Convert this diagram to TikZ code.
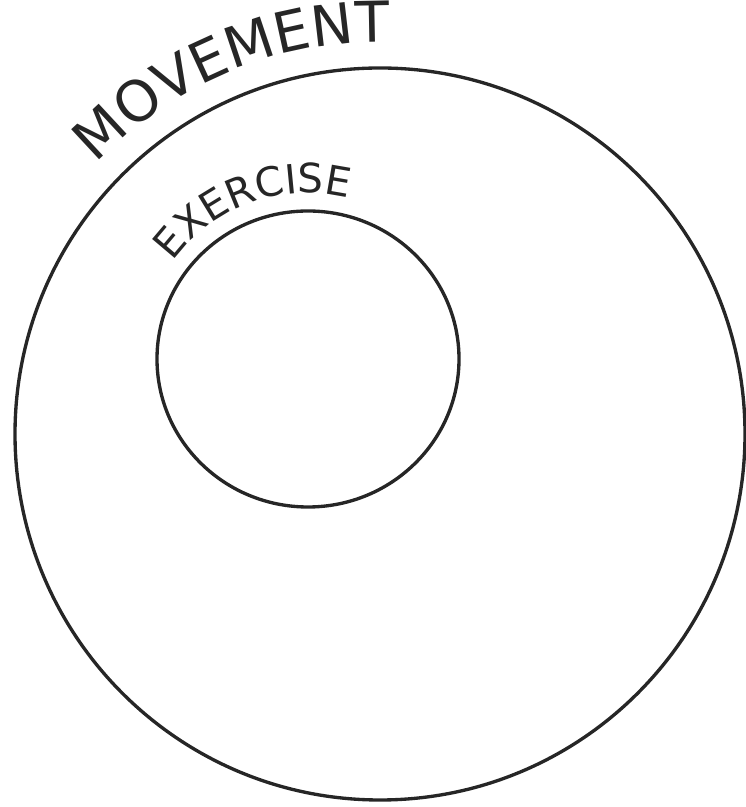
\documentclass[tikz,border=0pt]{standalone}
\usepackage{fontspec}
\setmainfont{DejaVu Sans}
\usetikzlibrary{decorations.text}

\begin{document}
\begin{tikzpicture}[x=0.02cm,y=0.02cm]
\tikzset{
  ringline/.style={draw=black!85,line width=1.9pt,line cap=round},
  ringlabel/.style={decorate,decoration={text along path,text align=center,text={#1}}}
}
\useasboundingbox (0,0) rectangle (746,807);
\coordinate (c_move) at (380,373);
\coordinate (c_exer) at (308,448);
\draw[ringline] (c_move) ellipse[x radius=365,y radius=366];
\draw[ringline] (c_exer) ellipse[x radius=151,y radius=148];
\path[ringlabel={|\fontsize{32}{36}\selectfont\color{black!85}|MOVEMENT}]
  ([shift={(138:392)}]c_move) arc[start angle=138,end angle=87,radius=392];
\path[ringlabel={|\fontsize{23}{27}\selectfont\color{black!85}|EXERCISE}]
  ([shift={(147:166)}]c_exer) arc[start angle=147,end angle=73,radius=166];
\end{tikzpicture}
\end{document}
